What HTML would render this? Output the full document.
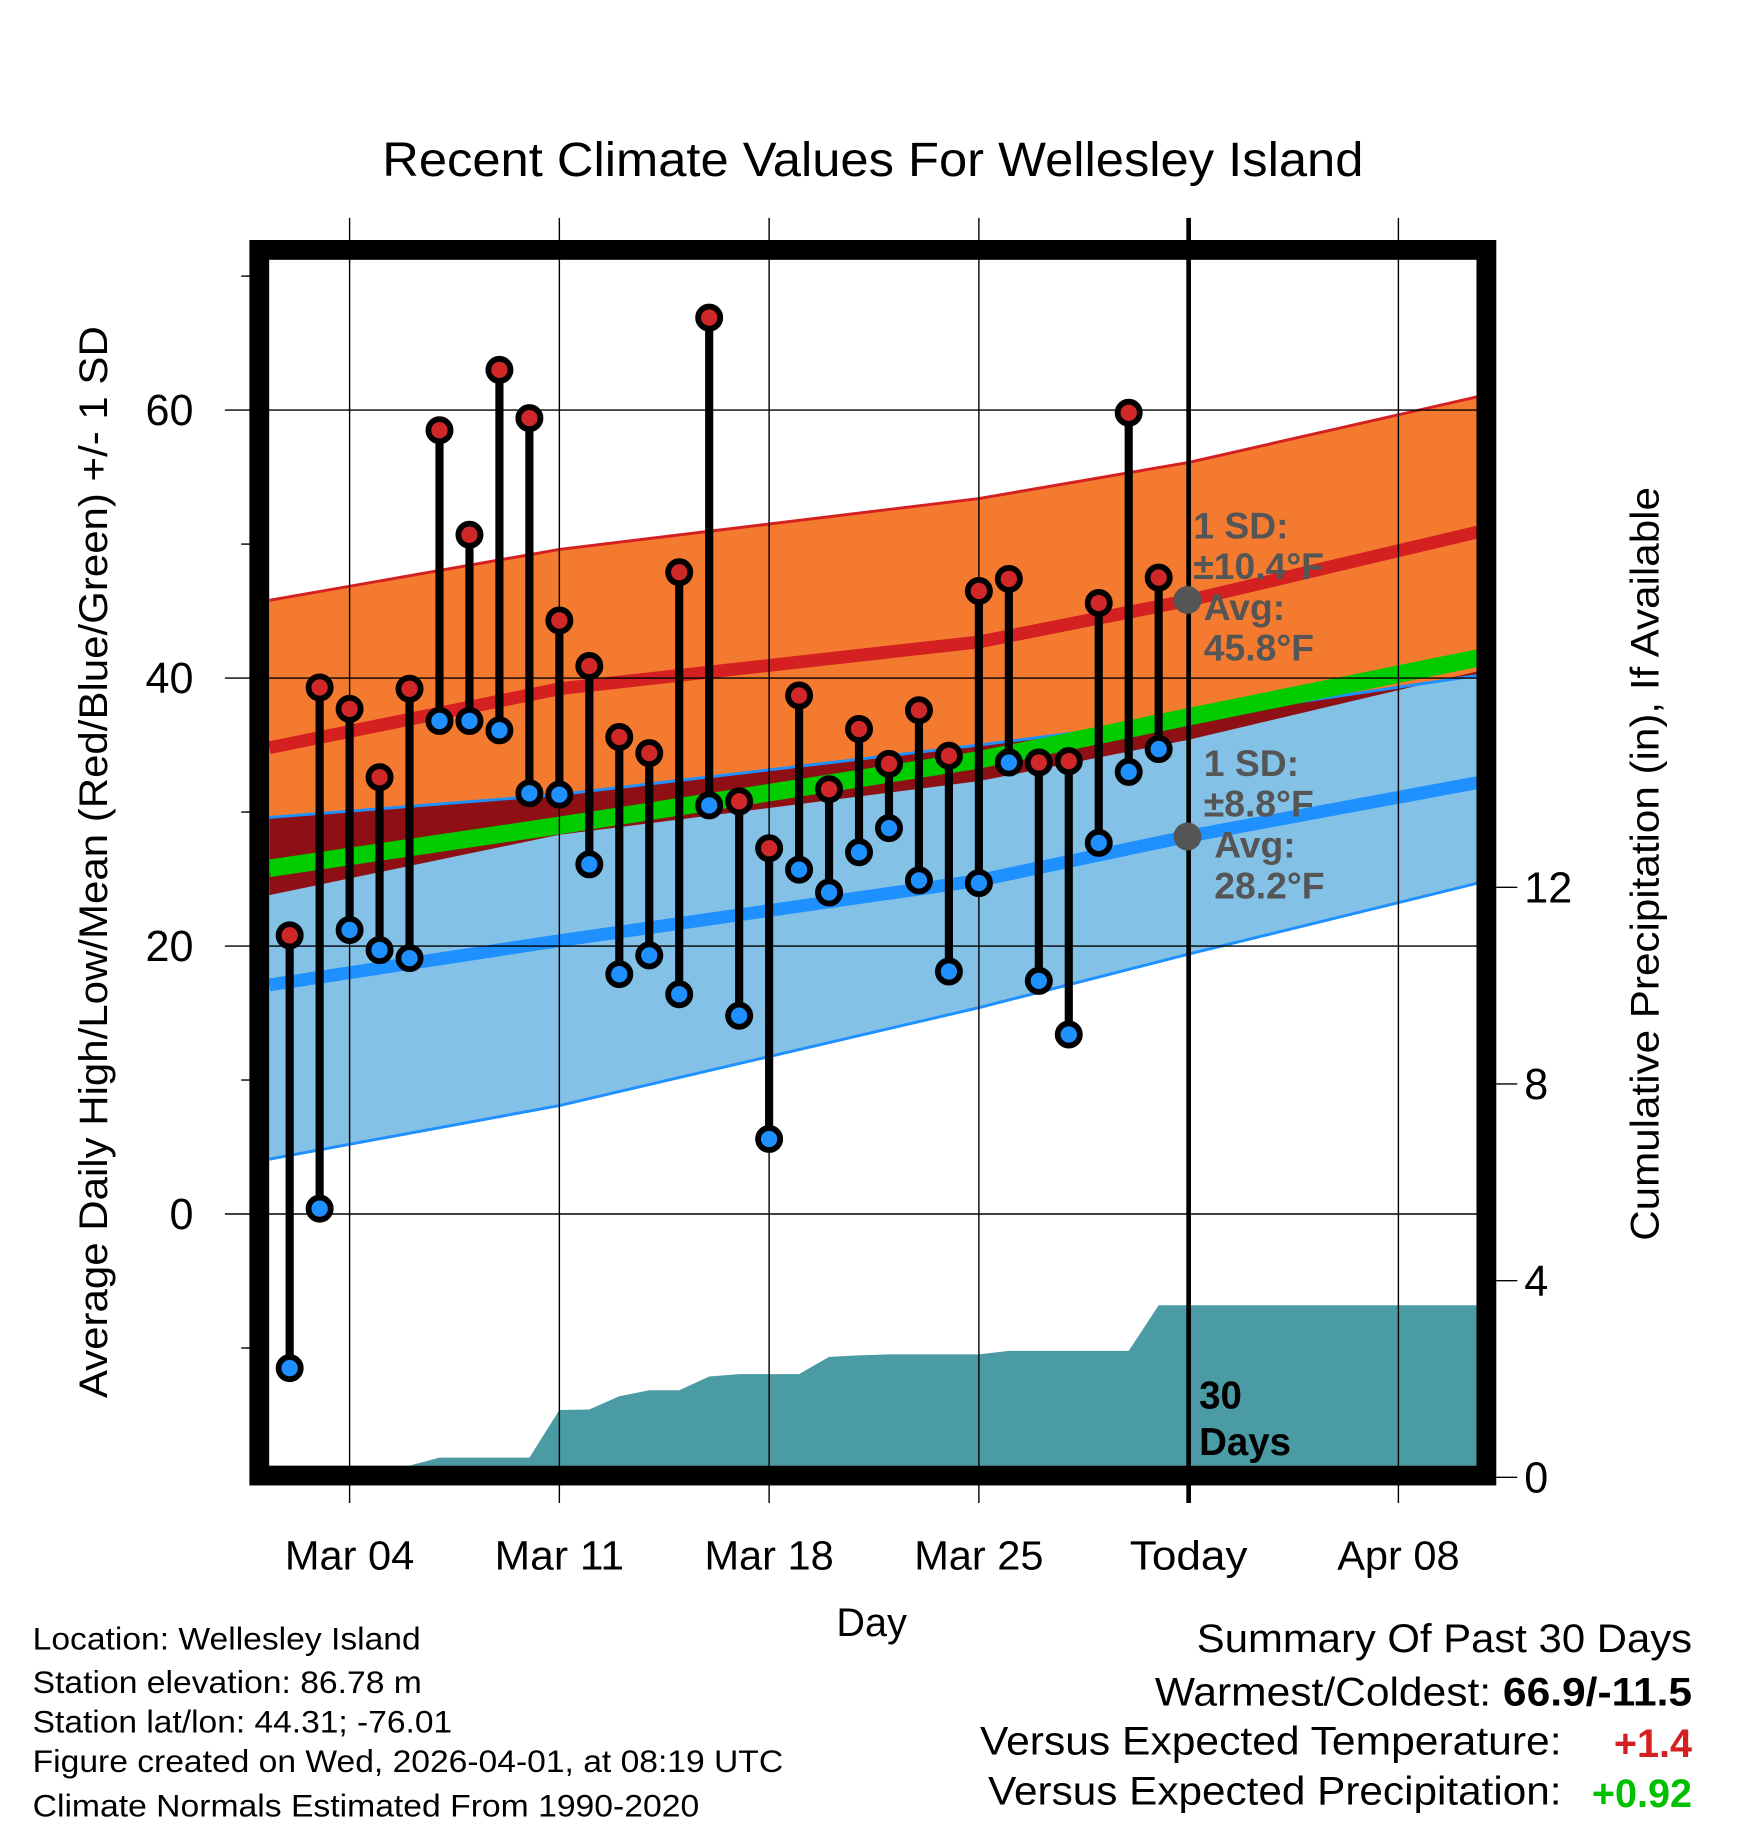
<!DOCTYPE html>
<html><head><meta charset="utf-8"><style>
html,body{margin:0;padding:0;background:#fff;}
svg{display:block;font-family:"Liberation Sans",sans-serif;}
</style></head><body>
<svg id="chart" width="1748" height="1828" viewBox="0 0 1500 1569" preserveAspectRatio="none" xmlns="http://www.w3.org/2000/svg">
<text x="328" y="151" font-size="41" textLength="842" lengthAdjust="spacingAndGlyphs">Recent Climate Values For Wellesley Island</text>
<g id="bands"></g><g id="precip"></g><g id="grid"></g><g id="marks"></g><g id="axes"></g>
<text transform="translate(92,1200) rotate(-90)" font-size="34" textLength="920" lengthAdjust="spacingAndGlyphs">Average Daily High/Low/Mean (Red/Blue/Green) +/- 1 SD</text>
<text transform="translate(1423,1065) rotate(-90)" font-size="34" textLength="647" lengthAdjust="spacingAndGlyphs">Cumulative Precipitation (in), If Available</text>
<text x="748" y="1404" font-size="34" text-anchor="middle">Day</text>
<g font-size="27" lengthAdjust="spacingAndGlyphs">
<text x="28" y="1416" textLength="333" lengthAdjust="spacingAndGlyphs">Location: Wellesley Island</text>
<text x="28" y="1453" textLength="334" lengthAdjust="spacingAndGlyphs">Station elevation: 86.78 m</text>
<text x="28" y="1487" textLength="360" lengthAdjust="spacingAndGlyphs">Station lat/lon: 44.31; -76.01</text>
<text x="28" y="1521" textLength="644" lengthAdjust="spacingAndGlyphs">Figure created on Wed, 2026-04-01, at 08:19 UTC</text>
<text x="28" y="1559" textLength="572" lengthAdjust="spacingAndGlyphs">Climate Normals Estimated From 1990-2020</text>
</g>
<g font-size="34">
<text x="1027" y="1418" textLength="425" lengthAdjust="spacingAndGlyphs">Summary Of Past 30 Days</text>
<text x="991" y="1464" textLength="461" lengthAdjust="spacingAndGlyphs">Warmest/Coldest: <tspan font-weight="bold">66.9/-11.5</tspan></text>
<text x="841" y="1506" textLength="499" lengthAdjust="spacingAndGlyphs">Versus Expected Temperature:</text>
<text x="1452" y="1508" fill="#d42020" font-weight="bold" text-anchor="end">+1.4</text>
<text x="848" y="1549" textLength="492" lengthAdjust="spacingAndGlyphs">Versus Expected Precipitation:</text>
<text x="1452" y="1551" fill="#00c000" font-weight="bold" text-anchor="end">+0.92</text>
</g>
</svg>
<script>
const days=[2,3,4,5,6,7,8,9,10,11,12,13,14,15,16,17,18,19,20,21,22,23,24,25,26,27,28,29,30,31];
const highs=[20.8,39.3,37.7,32.6,39.2,58.5,50.7,63.0,59.4,44.3,40.9,35.6,34.4,47.9,66.9,30.8,27.3,38.7,31.7,36.2,33.6,37.6,34.2,46.5,47.4,33.7,33.8,45.6,59.8,47.5];
const lows=[-11.5,0.4,21.2,19.7,19.1,36.8,36.8,36.1,31.4,31.3,26.1,17.9,19.3,16.4,30.5,14.8,5.6,25.7,24.0,27.0,28.8,24.9,18.1,24.7,33.7,17.4,13.4,27.7,33.0,34.7];
const precip=[0,0,0,0,0,0.4,0.4,0.4,0.4,1.37,1.38,1.65,1.77,1.77,2.05,2.1,2.1,2.1,2.45,2.48,2.5,2.5,2.5,2.5,2.57,2.57,2.57,2.57,2.57,3.5];
const normDays=[1.32,11,25,32,41.65];
const hiPlusSD=[45.8,49.6,53.4,56.1,61.0];
const hiMean=[34.8,39.2,42.7,45.8,50.9];
const hiMinusSD=[23.8,28.3,32.3,35.4,40.5];
const meanT=[25.8,29.0,33.9,37.1,41.5];
const loPlusSD=[29.6,31.3,35.0,37.0,40.2];
const loMean=[17.1,20.4,24.9,28.2,32.2];
const loMinusSD=[4.1,8.1,15.4,19.4,24.7];
const yTicks=[0,20,40,60];
const yMinor=[-10,10,30,50,70];
const pTicks=[0,4,8,12];
const xTickDays=[4,11,18,25,32,39];
const xTickLabels=["Mar 04","Mar 11","Mar 18","Mar 25","Today","Apr 08"];
const xTickWidths=[111,111,111,111,101,105];

const NS="http://www.w3.org/2000/svg";
const L=231,R=1268,T=223,B=1258;
const x=d=>300+(d-4)*180/7;
const y=t=>1042-11.5*t;
const yp=p=>1268-42.2*p;
function mk(tag,attrs,parent){const e=document.createElementNS(NS,tag);for(const k in attrs)e.setAttribute(k,attrs[k]);parent.appendChild(e);return e;}
const g=id=>document.getElementById(id);
const pts=arr=>normDays.map((d,i)=>x(d).toFixed(1)+","+y(arr[i]).toFixed(1));
function band(top,bot,fill,name){
  const p=pts(top).concat(pts(bot).reverse()).join(" ");
  const e=mk("polygon",{points:p,fill:fill},g("bands"));
  
  
}
function line(arr,stroke,w,name){
  const e=mk("polyline",{points:pts(arr).join(" "),fill:"none",stroke:stroke,"stroke-width":w,"stroke-linejoin":"round"},g("bands"));
  
  
}
band(hiPlusSD,loPlusSD,"#f47a30","high-sd-band");
band(loPlusSD,loMinusSD,"#83c1e6","low-sd-band");
band(loPlusSD,hiMinusSD,"#8e1014","overlap-band");
line(hiPlusSD,"#d42020",2.5,"high-plus-sd-line");
line(loPlusSD,"#1e90ff",2.5,"low-plus-sd-line");
line(loMinusSD,"#1e90ff",2.5,"low-minus-sd-line");
line(meanT,"#00cc00",15,"mean-temp-line");
line(hiMean,"#d42020",11,"mean-high-line");
line(loMean,"#1e90ff",11,"mean-low-line");
(function(){
  let p=[x(days[0]).toFixed(1)+","+B];
  days.forEach((d,i)=>p.push(x(d).toFixed(1)+","+Math.min(B,yp(precip[i])).toFixed(1)));
  p.push(R+","+Math.min(B,yp(precip[precip.length-1])).toFixed(1));
  p.push(R+","+B);
  const e=mk("polygon",{points:p.join(" "),fill:"#4a9ba3"},g("precip"));
  
  
})();
xTickDays.forEach((d,i)=>{
  const e=mk("line",{x1:x(d),x2:x(d),y1:187,y2:1290,stroke:"#000","stroke-width":d===32?4:1.2},g("grid"));
  
  
  const t=mk("text",{x:x(d)-xTickWidths[i]/2,y:1347,"font-size":35,textLength:xTickWidths[i],lengthAdjust:"spacingAndGlyphs"},g("axes"));
  t.textContent=xTickLabels[i];
  
  
});
yTicks.forEach(v=>{
  const e=mk("line",{x1:193,x2:R,y1:y(v),y2:y(v),stroke:"#000","stroke-width":1.2},g("grid"));
  
  
  const t=mk("text",{x:166,y:y(v)+13,"font-size":37,"text-anchor":"end"},g("axes"));
  t.textContent=v;
  
  
});
yMinor.forEach(v=>{
  const e=mk("line",{x1:207,x2:216,y1:y(v),y2:y(v),stroke:"#000","stroke-width":1.2},g("axes"));
  
  
});
pTicks.forEach(v=>{
  const e=mk("line",{x1:1284,x2:1302,y1:yp(v),y2:yp(v),stroke:"#000","stroke-width":1.2},g("axes"));
  
  
  const t=mk("text",{x:1308,y:yp(v)+13,"font-size":37},g("axes"));
  t.textContent=v;
  
  
});
days.forEach((d,i)=>{
  const s=mk("line",{x1:x(d),x2:x(d),y1:y(highs[i]),y2:y(lows[i]),stroke:"#000","stroke-width":7},g("marks"));
  
  
});
days.forEach((d,i)=>{
  const h=mk("circle",{cx:x(d),cy:y(highs[i]),r:9.5,fill:"#d02828",stroke:"#000","stroke-width":5},g("marks"));
  
  
  const l=mk("circle",{cx:x(d),cy:y(lows[i]),r:9.5,fill:"#1e90ff",stroke:"#000","stroke-width":5},g("marks"));
  
  
});
(function(){
  const e=mk("rect",{x:222.5,y:214.5,width:1053,height:1052,fill:"none",stroke:"#000","stroke-width":17},g("axes"));
  
  
})();
function ann(lines,x0,y0,name){
  const t=mk("text",{x:x0,y:y0,"font-size":32,"font-weight":"bold",fill:"#555"},g("axes"));
  
  
  lines.forEach((s,i)=>{const ts=mk("tspan",{x:x0+(i>=2?9:0),dy:i?35:0},t);ts.textContent=s;});
}
const d1=mk("circle",{cx:1019,cy:515,r:12,fill:"#555"},g("axes"));


const d2=mk("circle",{cx:1019,cy:718,r:12,fill:"#555"},g("axes"));


ann(["1 SD:","±10.4°F","Avg:","45.8°F"],1024,462,'high-sd-annotation');
ann(["1 SD:","±8.8°F","Avg:","28.2°F"],1033,666,'low-sd-annotation');
const td=mk("text",{x:1029,y:1209,"font-size":33,"font-weight":"bold"},g("axes"));


["30","Days"].forEach((s,i)=>{const ts=mk("tspan",{x:1029,dy:i?40:0},td);ts.textContent=s;});
</script>
</body></html>
